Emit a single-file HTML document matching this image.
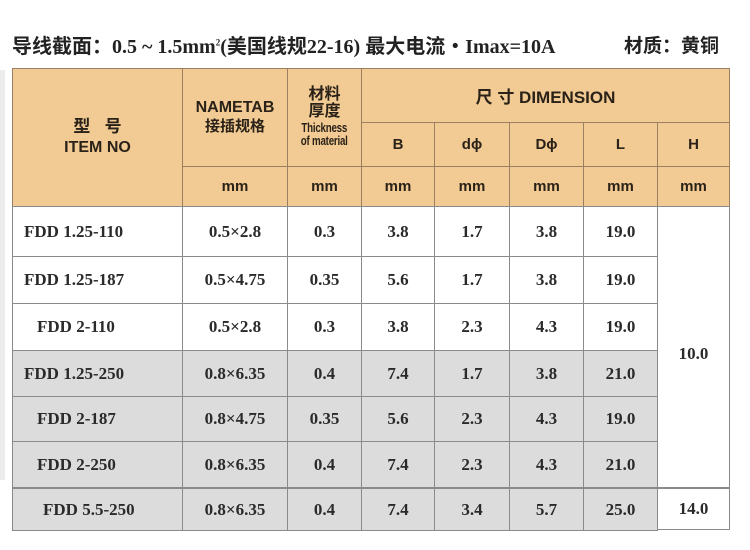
<!DOCTYPE html>
<html><head><meta charset="utf-8"><style>
body{margin:0;width:750px;height:550px;background:#fff;position:relative;overflow:hidden;font-family:"Liberation Serif","Noto Serif CJK SC",serif;}
.c{position:absolute;box-sizing:border-box;border:1px solid #8a8a8a;display:flex;align-items:center;justify-content:center;text-align:center;color:#222;}
.h{background:#f2ca93;font-family:"Liberation Sans","Noto Sans CJK SC",sans-serif;font-weight:bold;font-size:15px;color:#2a2218;border-color:#9a8060;}
.d{font-size:17px;font-weight:bold;color:#2a2a2a}
.w{background:#fff}.g{background:#dcdcdc}
.l{justify-content:flex-start}
</style></head><body>
<div style="position:absolute;left:0;top:70px;width:5px;height:410px;background:#ececec"></div>
<div style="position:absolute;left:12px;top:30px;font-size:20px;font-weight:bold;color:#222;white-space:nowrap;font-family:'Liberation Serif','Noto Sans CJK SC',serif">导线截面：0.5 ~ 1.5mm<sup style="font-size:9px">2</sup>(美国线规22-16) 最大电流・Imax=10A</div>
<div style="position:absolute;left:624px;top:31px;font-size:19px;font-weight:bold;color:#222;font-family:'Noto Sans CJK SC',sans-serif">材质：黄铜</div>

<div class="c h" style="left:12px;top:68px;width:171px;height:139px;line-height:1.3;flex-direction:column"><div style="font-size:17px">型&nbsp;&nbsp;&nbsp;号</div><div style="font-size:16px">ITEM NO</div></div>
<div class="c h" style="left:182px;top:68px;width:106px;height:99px;flex-direction:column;line-height:1.25"><div style="font-size:16px">NAMETAB</div><div>接插规格</div></div>
<div class="c h" style="left:287px;top:68px;width:75px;height:99px;flex-direction:column;line-height:1.05"><div style="font-size:16px">材料<br>厚度</div><div style="font-size:13px;transform:scaleX(0.75);white-space:nowrap;letter-spacing:-0.3px">Thickness<br>of material</div></div>
<div class="c h" style="left:361px;top:68px;width:369px;height:55px;font-size:17px">尺 寸 DIMENSION</div>
<div class="c h" style="left:361px;top:122px;width:74px;height:45px">B</div>
<div class="c h" style="left:434px;top:122px;width:76px;height:45px">dϕ</div>
<div class="c h" style="left:509px;top:122px;width:75px;height:45px">Dϕ</div>
<div class="c h" style="left:583px;top:122px;width:75px;height:45px">L</div>
<div class="c h" style="left:657px;top:122px;width:73px;height:45px">H</div>
<div class="c h" style="left:182px;top:166px;width:106px;height:41px">mm</div>
<div class="c h" style="left:287px;top:166px;width:75px;height:41px">mm</div>
<div class="c h" style="left:361px;top:166px;width:74px;height:41px">mm</div>
<div class="c h" style="left:434px;top:166px;width:76px;height:41px">mm</div>
<div class="c h" style="left:509px;top:166px;width:75px;height:41px">mm</div>
<div class="c h" style="left:583px;top:166px;width:75px;height:41px">mm</div>
<div class="c h" style="left:657px;top:166px;width:73px;height:41px">mm</div>

<div class="c d w l" style="left:12px;top:206px;width:171px;height:51px;padding-left:11px">FDD 1.25-110</div>
<div class="c d w" style="left:182px;top:206px;width:106px;height:51px">0.5×2.8</div>
<div class="c d w" style="left:287px;top:206px;width:75px;height:51px">0.3</div>
<div class="c d w" style="left:361px;top:206px;width:74px;height:51px">3.8</div>
<div class="c d w" style="left:434px;top:206px;width:76px;height:51px">1.7</div>
<div class="c d w" style="left:509px;top:206px;width:75px;height:51px">3.8</div>
<div class="c d w" style="left:583px;top:206px;width:75px;height:51px">19.0</div>

<div class="c d w l" style="left:12px;top:256px;width:171px;height:48px;padding-left:11px">FDD 1.25-187</div>
<div class="c d w" style="left:182px;top:256px;width:106px;height:48px">0.5×4.75</div>
<div class="c d w" style="left:287px;top:256px;width:75px;height:48px">0.35</div>
<div class="c d w" style="left:361px;top:256px;width:74px;height:48px">5.6</div>
<div class="c d w" style="left:434px;top:256px;width:76px;height:48px">1.7</div>
<div class="c d w" style="left:509px;top:256px;width:75px;height:48px">3.8</div>
<div class="c d w" style="left:583px;top:256px;width:75px;height:48px">19.0</div>

<div class="c d w l" style="left:12px;top:303px;width:171px;height:48px;padding-left:24px">FDD 2-110</div>
<div class="c d w" style="left:182px;top:303px;width:106px;height:48px">0.5×2.8</div>
<div class="c d w" style="left:287px;top:303px;width:75px;height:48px">0.3</div>
<div class="c d w" style="left:361px;top:303px;width:74px;height:48px">3.8</div>
<div class="c d w" style="left:434px;top:303px;width:76px;height:48px">2.3</div>
<div class="c d w" style="left:509px;top:303px;width:75px;height:48px">4.3</div>
<div class="c d w" style="left:583px;top:303px;width:75px;height:48px">19.0</div>

<div class="c d g l" style="left:12px;top:350px;width:171px;height:47px;padding-left:11px">FDD 1.25-250</div>
<div class="c d g" style="left:182px;top:350px;width:106px;height:47px">0.8×6.35</div>
<div class="c d g" style="left:287px;top:350px;width:75px;height:47px">0.4</div>
<div class="c d g" style="left:361px;top:350px;width:74px;height:47px">7.4</div>
<div class="c d g" style="left:434px;top:350px;width:76px;height:47px">1.7</div>
<div class="c d g" style="left:509px;top:350px;width:75px;height:47px">3.8</div>
<div class="c d g" style="left:583px;top:350px;width:75px;height:47px">21.0</div>

<div class="c d g l" style="left:12px;top:396px;width:171px;height:46px;padding-left:24px">FDD 2-187</div>
<div class="c d g" style="left:182px;top:396px;width:106px;height:46px">0.8×4.75</div>
<div class="c d g" style="left:287px;top:396px;width:75px;height:46px">0.35</div>
<div class="c d g" style="left:361px;top:396px;width:74px;height:46px">5.6</div>
<div class="c d g" style="left:434px;top:396px;width:76px;height:46px">2.3</div>
<div class="c d g" style="left:509px;top:396px;width:75px;height:46px">4.3</div>
<div class="c d g" style="left:583px;top:396px;width:75px;height:46px">19.0</div>

<div class="c d g l" style="left:12px;top:441px;width:171px;height:47px;padding-left:24px">FDD 2-250</div>
<div class="c d g" style="left:182px;top:441px;width:106px;height:47px">0.8×6.35</div>
<div class="c d g" style="left:287px;top:441px;width:75px;height:47px">0.4</div>
<div class="c d g" style="left:361px;top:441px;width:74px;height:47px">7.4</div>
<div class="c d g" style="left:434px;top:441px;width:76px;height:47px">2.3</div>
<div class="c d g" style="left:509px;top:441px;width:75px;height:47px">4.3</div>
<div class="c d g" style="left:583px;top:441px;width:75px;height:47px">21.0</div>

<div class="c d w" style="left:657px;top:206px;width:73px;height:282px;align-items:flex-start;padding-top:137px">10.0</div>

<div class="c d g l" style="left:12px;top:487px;width:171px;height:44px;padding-left:30px;border-top:2px solid #8a8a8a">FDD 5.5-250</div>
<div class="c d g" style="left:182px;top:487px;width:106px;height:44px;border-top:2px solid #8a8a8a">0.8×6.35</div>
<div class="c d g" style="left:287px;top:487px;width:75px;height:44px;border-top:2px solid #8a8a8a">0.4</div>
<div class="c d g" style="left:361px;top:487px;width:74px;height:44px;border-top:2px solid #8a8a8a">7.4</div>
<div class="c d g" style="left:434px;top:487px;width:76px;height:44px;border-top:2px solid #8a8a8a">3.4</div>
<div class="c d g" style="left:509px;top:487px;width:75px;height:44px;border-top:2px solid #8a8a8a">5.7</div>
<div class="c d g" style="left:583px;top:487px;width:75px;height:44px;border-top:2px solid #8a8a8a">25.0</div>
<div class="c d w" style="left:657px;top:487px;width:73px;height:43px;border-top:2px solid #8a8a8a">14.0</div>
</body></html>
